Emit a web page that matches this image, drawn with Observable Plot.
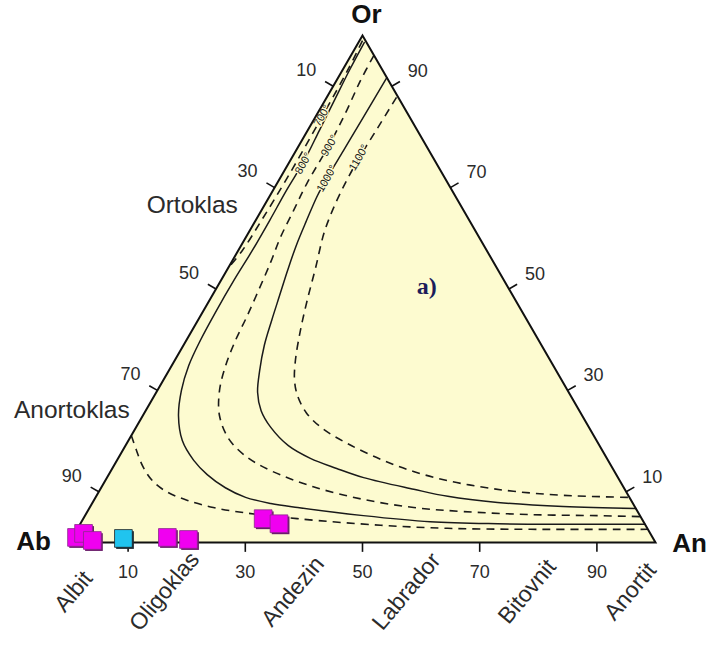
<!DOCTYPE html>
<html><head><meta charset="utf-8">
<script src="https://cdn.jsdelivr.net/npm/d3@7"></script>
<script src="https://cdn.jsdelivr.net/npm/@observablehq/plot@0.6"></script>
<style>body{margin:0;background:#fff;font-family:"Liberation Sans",Arial,sans-serif}</style>
</head><body><div id="chart"></div>
<script>
// Vertices (ternary: An %, Or %; Ab = 100 - An - Or)
const vertexNames = ["Ab", "An", "Or"];
const vertexAn = [0, 100, 0];
const vertexOr = [0, 0, 100];
const tickValues = [10, 30, 50, 70, 90];

// Plagioclase names along the Ab-An join
const minerals = ["Albit", "Oligoklas", "Andezin", "Labrador", "Bitovnit", "Anortit"];
const mineralAn = [0.7, 16.2, 38.1, 57.5, 78.1, 95.7];

// Alkali feldspar field names (outside the Ab-Or join)
const fieldNames = ["Ortoklas", "Anortoklas"];
const fieldAn = [-12.3, -12.7];
const fieldOr = [66.5, 26.2];

// Isotherms (solvus curves)
const c700aAn = [0.5, 0.9, 1.1, 1.2, 1.0, 0.7, 0];
const c700aOr = [99.0, 93.1, 83.8, 72.0, 63.5, 57.6, 54.0];
const c700bAn = [0, 2.4, 5.2, 8.3, 11.8, 16.0, 21.1, 26.7, 36.5, 51.4, 63.1, 77.4, 97.4];
const c700bOr = [21.1, 18.1, 14.8, 12.0, 9.9, 8.3, 6.9, 5.9, 4.7, 3.4, 2.8, 2.6, 2.6];
const c800An = [1.0, 1.2, 1.6, 2.0, 2.4, 2.3, 2.4, 2.4, 2.2, 2.2, 2.4, 2.9, 4.1, 6.1, 9.2, 13.1, 16.8, 21.2, 25.6, 30.5, 35.5, 47.5, 59.5, 71.2, 82.5, 96.4];
const c800Or = [98.6, 93.1, 87.2, 81.3, 75.3, 69.4, 63.5, 57.6, 51.7, 45.8, 39.8, 34.9, 30.0, 25.0, 20.1, 16.2, 13.4, 10.8, 8.9, 7.7, 6.9, 5.3, 4.1, 3.7, 3.6, 3.6];
const c900An = [3.9, 4.1, 4.7, 5.1, 5.1, 5.5, 5.9, 6.7, 7.4, 8.0, 8.4, 9.2, 10.6, 13.1, 16.9, 21.6, 27.2, 36.1, 45.9, 55.3, 64.2, 75.9, 87.4, 94.9];
const c900Or = [96.1, 91.1, 85.2, 78.9, 70.8, 65.5, 60.2, 55.2, 49.7, 44.4, 39.8, 34.9, 30.0, 25.0, 20.5, 17.0, 14.2, 11.0, 8.5, 6.9, 6.1, 5.5, 5.3, 5.1];
const c1000An = [8.3, 8.2, 8.1, 8.0, 8.1, 8.7, 9.4, 10.4, 11.5, 12.6, 13.8, 15.5, 17.3, 19.7, 23.0, 27.8, 32.8, 38.3, 43.8, 53.5, 60.0, 69.1, 80.7, 93.3];
const c1000Or = [91.7, 83.2, 77.3, 71.8, 68.4, 63.5, 58.6, 53.6, 48.7, 43.8, 38.9, 33.9, 29.6, 26.0, 22.7, 19.1, 16.6, 14.6, 12.8, 10.5, 9.1, 7.9, 7.1, 6.7];
const c1100An = [11.9, 11.7, 11.5, 11.6, 12.0, 12.9, 14.9, 16.7, 18.5, 20.6, 22.4, 24.4, 27.6, 31.9, 37.7, 44.9, 51.7, 58.4, 64.6, 70.7, 79.7, 91.1];
const c1100Or = [87.8, 81.7, 75.9, 71.4, 66.5, 61.1, 54.2, 47.7, 41.8, 35.9, 32.0, 29.0, 25.6, 22.5, 19.5, 16.4, 14.0, 12.2, 11.0, 10.1, 9.3, 8.9];

const isoText = ["700°", "800°", "900°", "1000°", "1100°"];
const isoAn = [1.0, 2.5, 5.2, 8.0, 11.4];
const isoOr = [84.2, 74.8, 78.3, 71.8, 75.9];

// Samples
const magentaAn = [0.7, 1.5, 3.7, 16.2, 20.0, 30.7, 33.9];
const magentaOr = [1.0, 1.8, 0.4, 1.0, 0.6, 4.7, 3.7];
const cyanAn = [8.8];
const cyanOr = [0.8];

// ---- helpers ----
const S3 = Math.sqrt(3) / 2;
const tx = d => d.an + d.or / 2;
const ty = d => d.or * S3;
const rows = (name, an, or) => an.map((a, i) => ({curve: name, an: a, or: or[i]}));

const vertices = vertexNames.map((n, i) => ({name: n, an: vertexAn[i], or: vertexOr[i]}));
const tri = [vertices[0], vertices[1], vertices[2], vertices[0]];
const dashed = [
  ...rows("700a", c700aAn, c700aOr), ...rows("700b", c700bAn, c700bOr),
  ...rows("900", c900An, c900Or), ...rows("1100", c1100An, c1100Or)
];
const solid = [...rows("800", c800An, c800Or), ...rows("1000", c1000An, c1000Or)];
const isoLabels = isoText.map((t, i) => ({t, an: isoAn[i], or: isoOr[i]}));
const bottomTicks = tickValues.map(v => ({v, an: v, or: 0}));
const leftTicks = tickValues.map(v => ({v, an: 0, or: 100 - v}));
const rightTicks = tickValues.map(v => ({v, an: 100 - v, or: v}));
const mineralRows = minerals.map((m, i) => ({m, an: mineralAn[i], or: 0}));
const fieldRows = fieldNames.map((f, i) => ({f, an: fieldAn[i], or: fieldOr[i]}));
const magenta = magentaAn.map((a, i) => ({an: a, or: magentaOr[i]}));
const cyan = cyanAn.map((a, i) => ({an: a, or: cyanOr[i]}));
const L = 1.6; // tick length in data units
const bg = "#fdfbd0";
const ink = "#1a1a1a";
const txt = "#2b2b2b";

const chart = Plot.plot({
  width: 709, height: 646, margin: 0,
  x: {domain: [0, 100], range: [69, 655], axis: null},
  y: {domain: [0, 100 * S3], range: [542, 35], axis: null},
  style: {background: "#fff", fontFamily: "Liberation Sans, Arial, sans-serif"},
  marks: [
    Plot.line(tri, {x: tx, y: ty, fill: bg, stroke: "none"}),
    Plot.line(dashed, {x: tx, y: ty, z: "curve", stroke: ink, strokeWidth: 1.6, strokeDasharray: "8,6", curve: "catmull-rom", strokeLinecap: "butt"}),
    Plot.line(solid, {x: tx, y: ty, z: "curve", stroke: ink, strokeWidth: 1.5, curve: "catmull-rom"}),
    Plot.text(isoLabels, {x: tx, y: ty, text: "t", rotate: -60, fontSize: 11, fill: ink, stroke: bg, strokeWidth: 2.5}),
    Plot.line(tri, {x: tx, y: ty, stroke: "#111", strokeWidth: 2, strokeLinejoin: "miter", strokeMiterlimit: 10}),
    // ticks
    Plot.link(bottomTicks, {x1: tx, y1: ty, x2: tx, y2: d => ty(d) - L, stroke: "#111", strokeWidth: 1.6}),
    Plot.link(leftTicks, {x1: tx, y1: ty, x2: d => tx(d) - L * S3, y2: d => ty(d) + L / 2, stroke: "#111", strokeWidth: 1.6}),
    Plot.link(rightTicks, {x1: tx, y1: ty, x2: d => tx(d) + L * S3, y2: d => ty(d) + L / 2, stroke: "#111", strokeWidth: 1.6}),
    Plot.text(bottomTicks, {x: tx, y: ty, text: d => String(d.v), dy: 30, fontSize: 18, fill: txt}),
    Plot.text(leftTicks, {x: tx, y: ty, text: d => String(d.v), dx: -27, dy: -16, fontSize: 18, fill: txt}),
    Plot.text(rightTicks, {x: tx, y: ty, text: d => String(d.v), dx: 26, dy: -15, fontSize: 18, fill: txt}),
    // mineral names
    Plot.text(mineralRows, {x: tx, y: ty, text: "m", dy: 49, rotate: -50, fontSize: 23, fill: txt}),
    Plot.text(fieldRows, {x: tx, y: ty, text: "f", fontSize: 24.5, fill: txt}),
    // vertex labels
    Plot.text([vertices[0]], {x: tx, y: ty, text: "name", dx: -36, dy: -1, fontSize: 26, fontWeight: "bold", fill: "#111"}),
    Plot.text([vertices[1]], {x: tx, y: ty, text: "name", dx: 34, dy: 1, fontSize: 26, fontWeight: "bold", fill: "#111"}),
    Plot.text([vertices[2]], {x: tx, y: ty, text: "name", dx: 4, dy: -21, fontSize: 26, fontWeight: "bold", fill: "#111"}),
    Plot.text([{an: 35.7, or: 50.5}], {x: tx, y: ty, text: () => "a)", fontSize: 24, fontWeight: "bold", fontFamily: "Liberation Serif, Times New Roman, serif", fill: "#1c1c5a"}),
    // samples
    Plot.dot(magenta, {x: tx, y: ty, symbol: "square", r: 10, fill: "#6a1a6a", dx: 1.6, dy: 1.6}),
    Plot.dot(magenta, {x: tx, y: ty, symbol: "square", r: 10, fill: "#f000f0", stroke: "#8a2a8a", strokeWidth: 0.8}),
    Plot.dot(cyan, {x: tx, y: ty, symbol: "square", r: 10, fill: "#1b2a33", dx: 1.6, dy: 1.6}),
    Plot.dot(cyan, {x: tx, y: ty, symbol: "square", r: 10, fill: "#20c4ef", stroke: "#222", strokeWidth: 0.8})
  ]
});
document.getElementById("chart").appendChild(chart);
</script>
</body></html>
